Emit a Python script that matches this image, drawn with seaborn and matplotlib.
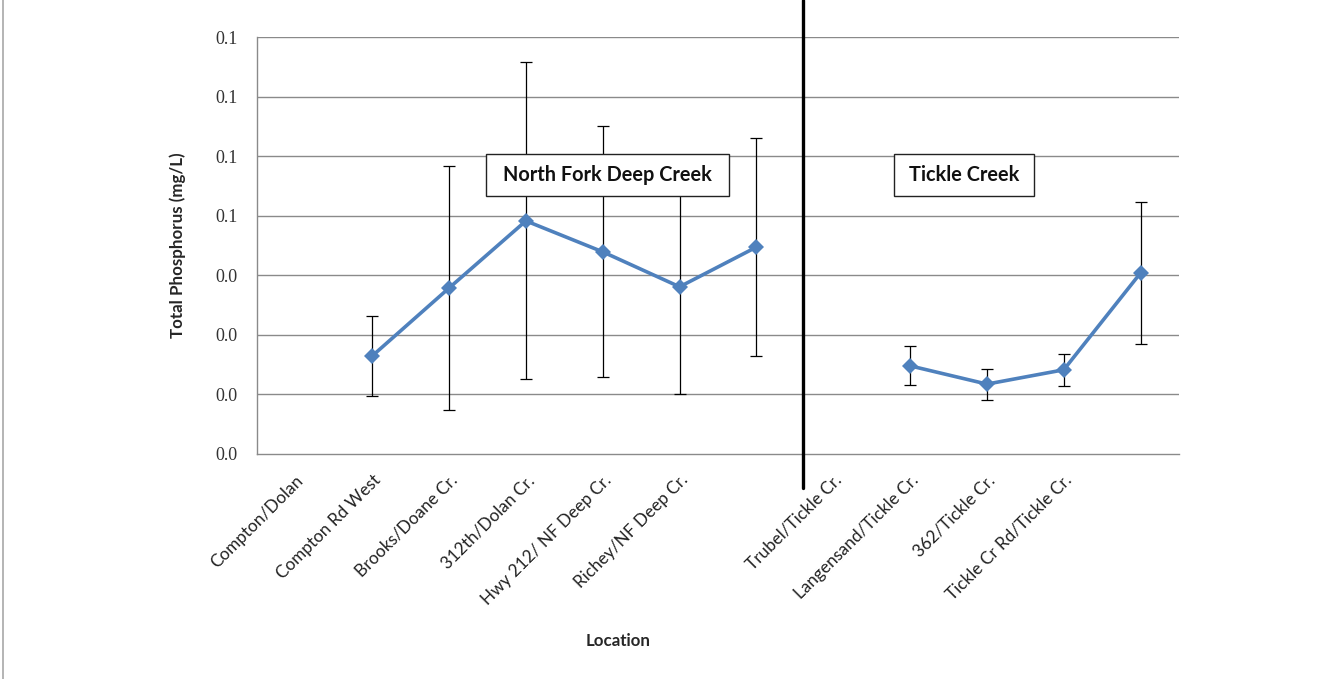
import numpy as np
import pandas as pd
import matplotlib
matplotlib.use("Agg")
import matplotlib.pyplot as plt
from matplotlib.lines import Line2D
from matplotlib.patches import Rectangle
import matplotlib.transforms as mtransforms
import seaborn as sns

# Sampling locations along the x axis (blank slots are unlabeled categories)
locations = [
    "Compton/Dolan", "Compton Rd West", "Brooks/Doane Cr.", "312th/Dolan Cr.",
    "Hwy 212/ NF Deep Cr.", "Richey/NF Deep Cr.", "", "Trubel/Tickle Cr.",
    "Langensand/Tickle Cr.", "362/Tickle Cr.", "Tickle Cr Rd/Tickle Cr.", "",
]
reach = ["North Fork"] * 7 + ["Tickle"] * 5

# Mean total phosphorus (mg/L) and error-bar half widths
tp_mean = [np.nan, 0.0247, 0.0418, 0.0587, 0.0509, 0.0421, 0.0521,
           np.nan, 0.0222, 0.0176, 0.0212, 0.0456]
tp_err = [np.nan, 0.0100, 0.0306, 0.0399, 0.0316, 0.0269, 0.0274,
          np.nan, 0.0049, 0.0039, 0.0040, 0.0178]

y_ticks = np.linspace(0, 0.105, 8)

df = pd.DataFrame({
    "pos": np.arange(len(locations)),
    "tp": tp_mean,
    "err": tp_err,
    "reach": reach,
}).dropna()

sns.set_style("white")
plt.rcParams["font.family"] = ["Lato", "DejaVu Sans"]

fig = plt.figure(figsize=(13.4, 6.79), dpi=100)
ax = fig.add_axes([257 / 1340, 1 - 454 / 679, (1179 - 257) / 1340, (454 - 37) / 679])

grid_c = "#8a8a8a"
for yv in y_ticks[1:]:
    ax.axhline(yv, color=grid_c, lw=1.0, zorder=1)

ax.errorbar(df["pos"], df["tp"], yerr=df["err"], fmt="none", ecolor="black",
            elinewidth=0.9, capsize=4.5, capthick=0.9, zorder=2)

sns.lineplot(data=df, x="pos", y="tp", hue="reach", units="reach",
             estimator=None, palette=["#4F81BD", "#4F81BD"], marker="D",
             markersize=8, markeredgewidth=0, linewidth=2.6, legend=False,
             ax=ax, zorder=3)

ax.set_xlim(-0.5, len(locations) - 0.5)
ax.set_ylim(0, 0.105)
ax.set_yticks(y_ticks)
ax.set_yticklabels([f"{v:.1f}" for v in y_ticks], family="Liberation Serif",
                   fontsize=13, color="#333333")
ax.set_xticks(np.arange(len(locations)))
ax.set_xticklabels(locations, rotation=45, ha="right", va="top",
                   rotation_mode="anchor", fontsize=12.3, color="#222222")
ax.tick_params(axis="x", length=0, pad=13)
ax.tick_params(axis="y", length=6, width=1, color=grid_c, pad=8)

# category boundary tick marks below the x axis
ax.set_xticks(np.arange(len(locations) + 1) - 0.5, minor=True)
ax.tick_params(axis="x", which="minor", length=5, width=1, color=grid_c)

for side in ["top", "right"]:
    ax.spines[side].set_visible(False)
for side in ["left", "bottom"]:
    ax.spines[side].set_color(grid_c)
    ax.spines[side].set_linewidth(1.0)

ax.set_xlabel("")
ax.set_ylabel("Total Phosphorus (mg/L)", fontsize=12.2, fontweight="bold",
              labelpad=21)
fig.text(618 / 1340, 1 - 641 / 679, "Location", ha="center", va="center",
         fontsize=12.2, fontweight="bold")

# reach label boxes
for (x0, x1, label) in [(486, 729, "North Fork Deep Creek"),
                        (894, 1034, "Tickle Creek")]:
    ax0 = (x0 - 257) / 922
    ax1 = (x1 - 257) / 922
    y0 = (454 - 196) / 417
    y1 = (454 - 154) / 417
    ax.add_patch(Rectangle((ax0, y0), ax1 - ax0, y1 - y0, transform=ax.transAxes,
                           facecolor="white", edgecolor="#222222", lw=1.0,
                           zorder=5))
    ax.text((ax0 + ax1) / 2, (y0 + y1) / 2, label, transform=ax.transAxes,
            ha="center", va="center", fontsize=14.3, fontweight="bold",
            color="#111111", zorder=6)

# divider between the two creeks
trans = mtransforms.blended_transform_factory(ax.transData, ax.transAxes)
ax.add_line(Line2D([6.605, 6.605], [-34 / 417, 454 / 417], transform=trans,
                   color="black", lw=2.4, clip_on=False, zorder=7))

# chart frame edge on the left
fig.add_artist(Line2D([2.5 / 1340, 2.5 / 1340], [0, 1], transform=fig.transFigure,
                      color="#a8a8a8", lw=1.2))

fig.savefig("out.png", dpi=100, facecolor="white")
